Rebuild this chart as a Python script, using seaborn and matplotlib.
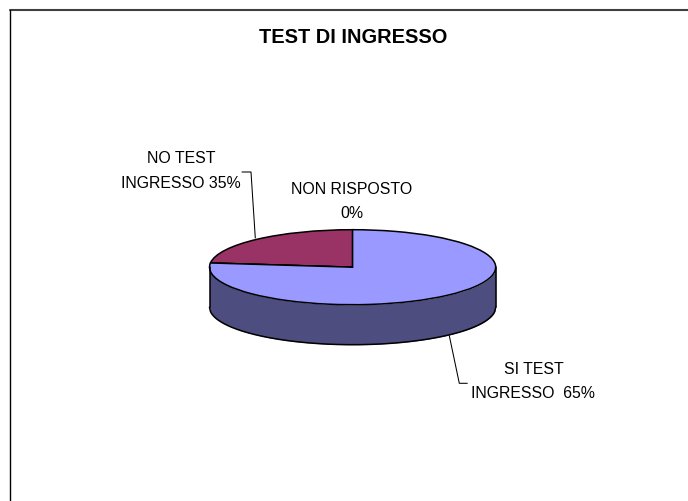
import numpy as np
import pandas as pd
import matplotlib
matplotlib.use('Agg')
import matplotlib.pyplot as plt
from matplotlib.lines import Line2D
import seaborn as sns

# Dati
categorie = ['NO TEST INGRESSO', 'NON RISPOSTO', 'SI TEST INGRESSO']
percentuali = [35, 0, 65]              # valori scritti nelle etichette
quota_disegnata = [23.2, 0, 76.8]      # ampiezza delle fette come appaiono nel disegno
titolo = 'TEST DI INGRESSO'
colori = ['#993366', '#FFFFCC', '#9999FF']
colore_parete = '#4D4D80'

sns.set_theme(style='white')
plt.rcParams['font.family'] = ['Liberation Sans', 'DejaVu Sans']

W, H = 688, 502
df = pd.DataFrame({'categoria': categorie, 'perc': percentuali, 'quota': quota_disegnata})

fig = plt.figure(figsize=(W / 100, H / 100), dpi=100, facecolor='white')


def fx(x):
    return x / W


def fy(y):
    return 1 - y / H


# Area della torta: ellisse + spessore in pixel
x0, x1 = 209.5, 495.7
y_top, y_bot, spessore = 230.7, 305.7, 40
ax = fig.add_axes([fx(x0), fy(y_bot + spessore), (x1 - x0) / W, (y_bot + spessore - y_top) / H])

# Parete laterale sotto la metà anteriore
prof = 2 * spessore / (y_bot - y_top)
t = np.linspace(-1, 1, 300)
ax.fill_between(t, -np.sqrt(1 - t**2), -np.sqrt(1 - t**2) - prof, color=colore_parete, lw=0, clip_on=False)
ax.plot(t, -np.sqrt(1 - t**2) - prof, color='black', lw=1.1, clip_on=False)
ax.plot([-1, -1], [0, -prof], color='black', lw=1.1, clip_on=False)
ax.plot([1, 1], [0, -prof], color='black', lw=1.1, clip_on=False)

ax.pie(df['quota'], colors=colori, startangle=90, counterclock=True, radius=1,
       wedgeprops={'edgecolor': 'black', 'linewidth': 1.1})
ax.set_aspect('auto')
ax.set_xlim(-1, 1)
ax.set_ylim(-1 - prof, 1)
ax.axis('off')
for p in ax.patches:
    p.set_clip_on(False)

# Cornice: solo lato superiore e sinistro
fig.add_artist(Line2D([fx(9.5), 1], [fy(11), fy(11)], color='#404040', lw=1.5))
fig.add_artist(Line2D([fx(9.7), fx(9.7)], [fy(11), 0], color='black', lw=1.0))

# Linee guida delle etichette
fig.add_artist(Line2D([fx(242), fx(251), fx(255.3)], [fy(173), fy(173), fy(239)], color='black', lw=0.75))
fig.add_artist(Line2D([fx(449.3), fx(459.3), fx(467.3)], [fy(336.7), fy(384.3), fy(384.3)], color='black', lw=0.75))

fig.text(fx(353), fy(37.5), titolo, fontsize=14.4, fontweight='bold', color='black', ha='center', va='center')

dim = 11.4
rip = {r.categoria: r.perc for r in df.itertuples()}
etichette = [
    (181, 159, 'NO TEST'),
    (181, 183, f"INGRESSO {rip['NO TEST INGRESSO']}%"),
    (352, 189, 'NON RISPOSTO'),
    (352, 213, f"{rip['NON RISPOSTO']}%"),
    (534, 370, 'SI TEST'),
    (533, 394, f"INGRESSO  {rip['SI TEST INGRESSO']}%"),
]
for x, y, testo in etichette:
    fig.text(fx(x), fy(y), testo, fontsize=dim, color='black', ha='center', va='center')

fig.savefig('out.png', dpi=100, facecolor='white')
